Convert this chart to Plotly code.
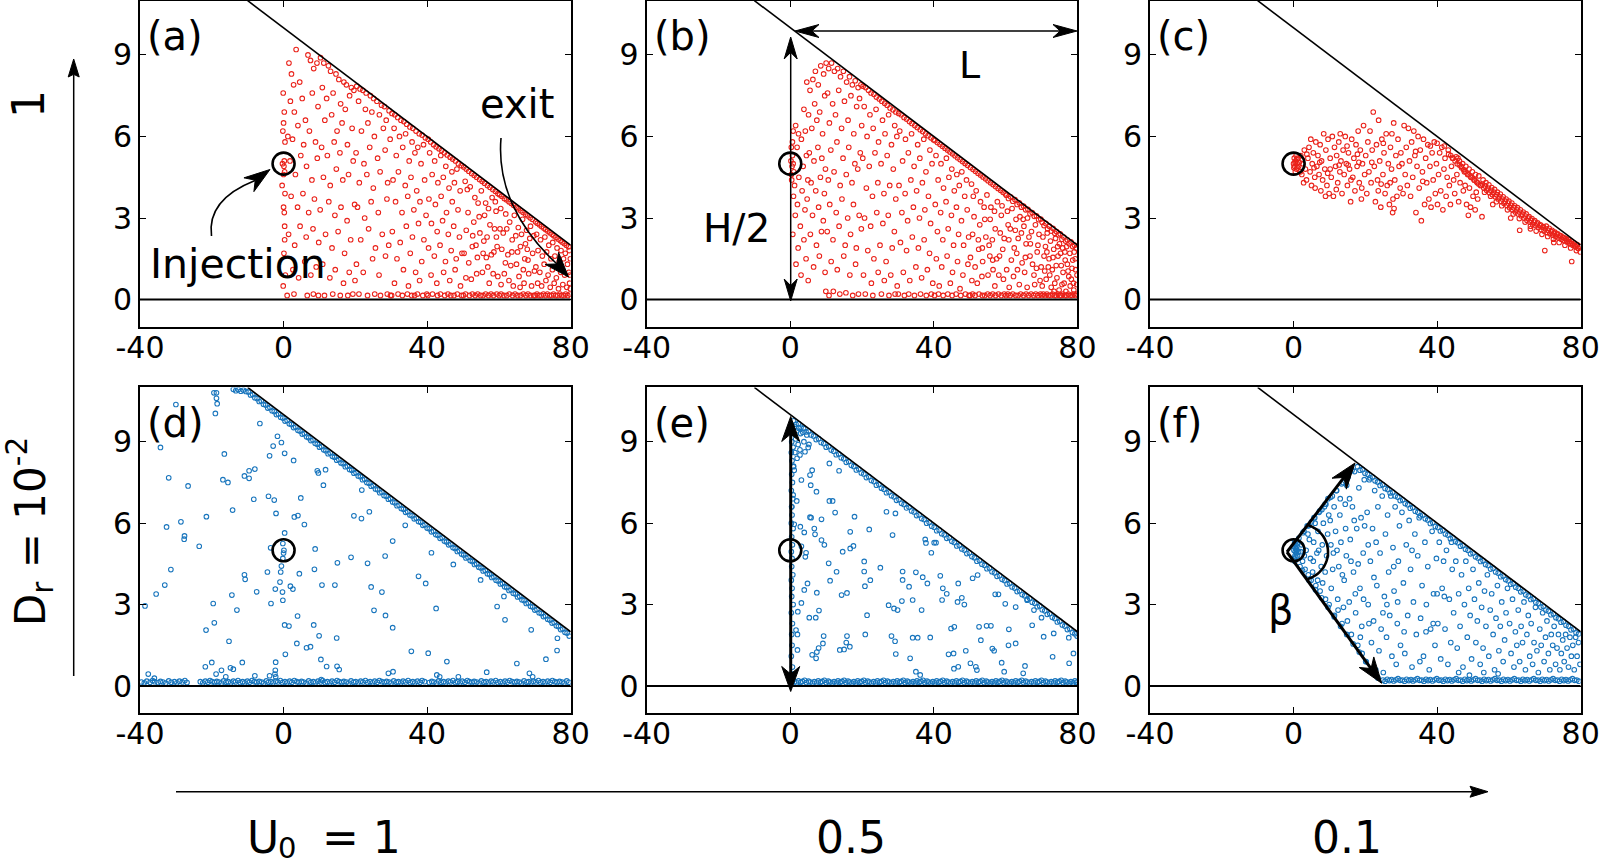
import math
import plotly.graph_objects as go

W, H = 1606, 867
FONT = "DejaVu Sans"
RED = "rgb(234,34,26)"
BLUE = "rgb(24,117,189)"

PANEL_LABELS = ["(a)", "(b)", "(c)", "(d)", "(e)", "(f)"]
X_TICKS = [-40, 0, 40, 80]
X_TICK_TEXT = ["-40", "0", "40", "80"]
Y_TICKS = [0, 3, 6, 9]
Y_TICK_TEXT = ["0", "3", "6", "9"]
X_RANGE = [-40, 80]
Y_RANGE = [-1, 11]
WALL_X = [-10, 80]
WALL_Y = [11, 2]
FLOOR_X = [-40, 80]
FLOOR_Y = [0, 0]
INJECTION_X = [0]
INJECTION_Y = [5]
COLUMN_VALUES = ["1", "0.5", "0.1"]   # U0 of each column
ROW_LABELS = ["1", "D<sub>r</sub> = 10<sup>-2</sup>"]

# ---------------- panel (a): U0 = 1, Dr = 1 ----------------
A_POINTS = [
    (-0.1,7.6),(0.2,6.9),(-0.2,6.2),(0.4,5.8),(-0.3,5.0),(0.1,4.9),(0.3,4.7),(-0.4,4.2),(0.0,3.4),(0.2,3.2),
    (0.3,2.7),(0.1,1.7),(0.5,0.9),(-0.1,0.5),(0.0,6.5),(0.4,3.9),(0.3,2.2),(0.2,5.1),(0.0,4.6),
    (1.5,8.7),(2.2,8.3),(3.5,9.2),(2.8,7.9),(4.5,8.0),(1.9,7.3),(3.0,6.9),(5.2,7.4),(6.8,9.0),(7.5,8.8),
    (8.4,8.5),(9.3,8.7),(6.1,6.6),(8.0,7.6),(9.6,7.1),(1.2,6.0),(2.5,5.9),(4.0,6.4),(5.6,5.7),(7.2,6.2),
    (8.9,5.8),(1.8,5.1),(3.3,4.6),(4.8,5.3),(6.4,4.9),(7.9,4.4),(9.4,5.2),(2.1,3.8),(3.9,3.4),(5.4,3.9),
    (7.0,3.2),(8.6,3.7),(1.4,2.4),(3.1,2.0),(4.6,2.7),(6.3,2.3),(8.2,2.6),(9.8,2.1),(2.6,1.1),(4.2,0.8),
    (5.9,1.4),(7.6,0.9),(9.1,1.2),(1.0,0.15),(2.9,0.2),(6.6,0.15),(8.3,0.2),(9.7,0.15),
    (10.3,8.9),(11.2,8.7),(12.5,8.6),(13.1,8.4),(14.6,8.3),(15.4,8.1),(16.8,8.0),(17.5,7.9),(18.9,7.8),(19.6,7.7),
    (10.8,7.8),(12.0,7.4),(13.8,7.6),(15.9,7.2),(17.2,7.0),(18.4,7.5),(11.5,6.6),(13.4,6.8),(14.9,6.2),(16.3,6.5),
    (19.1,6.3),(10.6,5.6),(12.2,5.3),(14.1,5.8),(15.7,5.4),(17.8,5.7),(19.4,5.1),(11.1,4.5),(13.0,4.2),(14.7,4.8),
    (16.5,4.4),(18.1,4.6),(10.2,3.3),(12.6,3.6),(14.3,3.1),(16.0,3.4),(17.7,2.9),(19.8,3.5),(11.7,2.4),(13.5,1.9),
    (15.2,2.5),(17.0,1.7),(18.7,2.2),(10.9,1.3),(12.9,0.8),(14.4,1.1),(16.7,0.6),(18.3,1.0),(19.9,0.7),(11.4,0.15),
    (13.7,0.2),(15.8,0.15),(17.9,0.15),(19.3,0.2),
    (20.4,7.85),(21.3,7.75),(22.1,7.7),(23.0,7.6),(24.2,7.5),(25.1,7.4),(26.0,7.3),(27.3,7.15),(28.1,7.1),(29.4,6.95),
    (20.9,7.3),(22.8,7.0),(24.6,6.9),(26.7,6.8),(28.6,6.6),(21.7,6.2),(23.5,6.5),(25.3,6.0),(27.8,6.3),(29.7,5.9),
    (20.2,5.4),(22.4,5.0),(24.0,5.6),(26.2,5.2),(28.3,5.5),(21.1,4.3),(23.2,4.6),(25.0,4.1),(26.9,4.7),(29.0,4.3),
    (20.6,3.4),(22.6,3.0),(24.4,3.6),(26.4,3.2),(28.8,3.7),(21.5,2.2),(23.7,2.6),(25.6,1.9),(27.5,2.4),(29.3,2.0),
    (20.3,1.3),(22.2,1.0),(24.8,1.5),(26.6,0.9),(28.4,1.6),(21.0,0.2),(23.4,0.15),(25.4,0.2),(27.0,0.15),(28.9,0.2),(29.8,0.15),
    (30.2,6.85),(31.0,6.8),(31.8,6.7),(32.7,6.6),(33.5,6.55),(34.3,6.45),(35.2,6.35),(36.0,6.3),(36.9,6.2),(37.8,6.1),
    (38.6,6.05),(39.5,5.95),(30.8,6.3),(32.3,6.0),(34.0,6.1),(35.8,5.8),(37.4,5.6),(39.0,5.7),(31.4,5.3),(33.2,5.6),
    (35.0,5.1),(36.6,5.4),(38.3,5.0),(30.5,4.4),(32.0,4.7),(33.9,4.2),(35.5,4.5),(37.1,4.0),(39.3,4.4),(31.2,3.6),
    (33.0,3.2),(34.6,3.8),(36.3,3.3),(38.0,3.6),(39.7,3.1),(30.3,2.5),(32.5,2.1),(34.2,2.7),(35.9,2.3),(37.6,2.8),
    (39.1,2.2),(31.6,1.5),(33.4,1.1),(35.3,1.7),(36.8,1.0),(38.5,1.4),(30.9,0.6),(34.8,0.5),(37.9,0.7),(30.1,0.15),
    (31.9,0.2),(33.1,0.15),(34.5,0.2),(35.7,0.15),(36.5,0.15),(37.3,0.2),(38.8,0.15),(39.9,0.2),
    (40.3,5.9),(41.0,5.8),(41.8,5.7),(42.5,5.62),(43.3,5.55),(44.0,5.48),(44.8,5.4),(45.6,5.32),(46.4,5.24),(47.1,5.17),
    (47.9,5.1),(48.7,5.0),(49.5,4.93),(40.7,5.4),(42.1,5.1),(43.8,5.3),(45.2,4.9),(46.9,4.7),(48.3,4.8),(41.4,4.6),
    (43.0,4.3),(44.5,4.5),(46.1,4.1),(47.6,4.3),(49.2,4.0),(40.5,3.7),(42.3,3.5),(43.9,3.8),(45.4,3.2),(47.0,3.6),
    (48.6,3.3),(41.2,2.8),(42.8,2.5),(44.3,2.9),(45.9,2.4),(47.4,2.7),(49.0,2.3),(40.4,1.9),(42.0,1.6),(43.6,2.0),
    (45.1,1.4),(46.7,1.8),(48.1,1.5),(49.7,1.7),(41.1,0.9),(42.7,0.6),(44.6,1.0),(46.3,0.7),(47.8,1.1),(49.3,0.5),
    (40.2,0.15),(41.5,0.2),(42.9,0.15),(43.7,0.2),(44.9,0.15),(45.8,0.2),(46.6,0.15),(47.5,0.15),(48.4,0.2),(49.6,0.15),
    (50.2,4.88),(50.9,4.8),(51.6,4.72),(52.4,4.64),(53.1,4.57),(53.8,4.5),(54.6,4.42),(55.3,4.35),(56.0,4.28),(56.8,4.2),
    (57.5,4.13),(58.3,4.05),(59.0,3.98),(59.7,3.9),
    (50.6,4.35),(51.4,3.2),(52.0,4.15),(52.7,2.35),(53.3,3.75),(54.0,1.55),(54.5,3.05),(55.1,4.0),(55.8,2.15),(56.3,3.55),
    (56.9,1.2),(57.5,2.75),(58.1,3.75),(58.6,1.75),(59.2,3.25),(59.7,0.85),(50.9,2.55),(51.6,1.35),(52.3,0.75),(53.0,2.85),
    (53.8,0.95),(54.7,2.45),(55.4,1.0),(56.0,3.1),(56.7,2.3),(57.3,0.6),(57.9,1.65),(58.8,2.6),(59.5,1.95),(50.3,1.7),
    (51.2,4.05),(52.6,1.95),(54.2,3.55),(55.6,1.7),(57.1,3.35),(58.4,0.95),(59.0,3.6),(50.8,0.8),(53.6,2.0),(56.5,1.55),(59.3,2.3),
    (50.1,0.15),(50.7,0.2),(51.8,0.15),(52.6,0.2),(53.4,0.15),(54.1,0.2),(54.9,0.15),(55.6,0.15),(56.3,0.2),(57.1,0.15),
    (57.8,0.2),(58.5,0.15),(59.4,0.2),
    (60.2,3.86),(60.8,3.8),(61.5,3.72),(62.1,3.67),(62.8,3.6),(63.4,3.54),(64.1,3.47),(64.8,3.4),(65.4,3.34),(66.1,3.27),
    (66.7,3.21),(67.4,3.14),(68.0,3.08),(68.7,3.01),(69.3,2.95),
    (60.5,3.35),(61.2,2.45),(61.9,3.15),(62.5,1.65),(63.0,2.85),(63.7,2.2),(64.3,3.1),(64.9,1.3),(65.4,2.65),(66.0,1.95),
    (66.6,2.95),(67.2,1.5),(67.7,2.55),(68.3,0.95),(68.8,2.7),(69.4,1.7),(60.8,1.85),(61.5,0.95),(62.2,2.6),(63.3,1.25),
    (64.0,0.5),(64.7,2.35),(65.6,0.85),(66.3,2.4),(67.0,0.6),(67.9,1.85),(68.6,2.25),(69.1,0.5),(69.7,2.35),(60.3,2.6),
    (61.8,1.35),(63.6,1.75),(65.2,1.75),(66.8,1.1),(68.1,1.45),(69.9,1.05),(60.6,0.55),(62.8,0.7),(65.9,0.45),(67.4,2.05),
    (60.1,0.15),(60.6,0.2),(61.4,0.15),(62.2,0.15),(62.9,0.2),(63.8,0.15),(64.5,0.2),(65.2,0.15),
    (66.0,0.15),(66.8,0.2),(67.5,0.15),(68.1,0.2),(68.8,0.15),(69.7,0.15),
    (70.2,2.86),(70.7,2.81),(71.3,2.75),(71.9,2.69),(72.5,2.63),(73.0,2.58),(73.6,2.52),(74.2,2.46),(74.8,2.4),(75.3,2.35),
    (75.9,2.29),(76.5,2.23),(77.1,2.17),(77.6,2.12),(78.2,2.06),(78.8,2.0),(79.4,1.94),(70.5,2.4),(71.6,2.2),(72.8,2.3),
    (73.9,2.0),(75.0,2.1),(76.2,1.9),(77.3,1.8),(78.5,1.7),(79.6,1.8),(70.9,1.8),(72.1,1.6),(73.3,1.75),(74.5,1.5),
    (75.6,1.6),(76.8,1.4),(78.0,1.5),(79.1,1.3),(70.3,1.2),(71.4,1.0),(72.6,1.3),(73.7,0.9),(74.9,1.1),(76.0,0.8),
    (77.2,1.0),(78.3,0.9),(79.5,1.0),(70.8,0.6),(71.9,0.5),(73.1,0.7),(74.3,0.45),(75.4,0.6),(76.6,0.4),(77.8,0.55),
    (78.9,0.45),(79.7,0.6),(70.1,0.15),(70.6,0.2),(71.2,0.15),(71.8,0.15),(72.4,0.2),(73.0,0.15),(73.5,0.2),(74.1,0.15),
    (74.7,0.15),(75.2,0.2),(75.8,0.15),(76.4,0.15),(77.0,0.2),(77.5,0.15),(78.1,0.15),(78.6,0.2),(79.2,0.15),(79.8,0.2),
    (79.9,0.4),(79.8,0.9),(79.9,1.5),
]

# ---------------- panel (b): U0 = 0.5, Dr = 1 ----------------
B_POINTS = [
    (0.3,4.6),(0.5,4.9),(0.2,5.1),(0.6,5.3),(0.4,4.4),(0.8,5.0),(0.3,5.6),(1.0,4.7),
    (0.8,6.2),(1.5,6.4),(2.3,6.1),(0.6,5.8),(1.9,5.6),(3.1,5.9),(4.2,6.2),(1.2,4.2),(2.4,4.5),(3.6,4.9),
    (4.5,5.3),(0.9,3.8),(2.0,3.5),(3.3,4.0),(4.7,3.7),(1.4,3.1),(2.8,2.7),(4.1,3.3),(0.7,2.4),(2.2,1.9),
    (3.8,2.2),(1.6,1.3),(3.0,0.9),(4.4,1.5),(4.9,4.4),
    (3.8,7.0),(4.6,8.0),(5.5,7.7),(6.3,8.1),(7.0,8.4),(7.8,7.9),(8.5,8.6),(9.3,8.3),(10.0,8.7),(5.1,6.8),
    (6.8,7.2),(8.2,6.9),(9.6,7.5),(6.0,6.3),(7.4,6.6),(9.0,6.1),
    (5.3,5.4),(6.6,5.1),(7.7,5.6),(8.8,5.2),(9.8,4.8),(5.8,4.3),(7.1,4.0),(8.4,4.5),(9.5,3.9),(6.2,3.1),
    (7.9,3.4),(9.2,2.9),(5.6,2.4),(7.3,2.0),(8.7,2.5),(6.5,1.2),(8.1,1.6),(9.7,1.0),(5.0,0.7),(9.9,0.3),
    (10.7,8.5),(11.5,8.7),(12.3,8.4),(13.2,8.5),(14.0,8.2),(14.8,8.4),(15.7,8.0),(16.5,8.2),(17.3,7.9),(18.1,8.05),
    (18.9,7.8),(19.7,7.9),(10.4,7.6),(11.8,7.2),(13.5,7.7),(15.1,7.3),(16.9,7.5),(18.5,7.1),(19.3,7.4),(10.9,6.5),
    (12.6,6.8),(14.3,6.3),(16.1,6.6),(17.7,6.1),(19.9,6.4),(11.3,5.5),(13.0,5.8),(14.7,5.2),(16.3,5.6),(18.0,5.0),
    (19.5,5.4),(10.6,4.4),(12.2,4.7),(13.9,4.2),(15.6,4.6),(17.2,4.3),(18.8,4.8),(11.0,3.5),(12.8,3.2),(14.4,3.7),
    (16.0,3.0),(17.6,3.5),(19.2,3.1),(10.3,2.5),(11.9,2.2),(13.6,2.7),(15.3,2.0),(16.8,2.4),(18.4,1.9),(19.8,2.6),
    (11.4,1.4),(13.1,1.1),(14.9,1.6),(16.6,0.9),(18.2,1.3),(12.0,0.3),(13.8,0.2),(15.5,0.25),(17.4,0.15),(19.0,0.2),(10.8,0.15),
    (20.3,7.85),(21.0,7.8),(21.8,7.7),(22.5,7.6),(23.3,7.55),(24.0,7.45),(24.8,7.38),(25.5,7.3),(26.3,7.22),(27.0,7.15),
    (27.8,7.05),(28.6,6.98),(29.4,6.9),(20.6,7.1),(22.2,6.8),(23.9,7.0),(25.7,6.6),(27.4,6.8),(29.1,6.4),(21.4,6.0),
    (23.1,6.3),(24.6,5.8),(26.4,6.1),(28.2,5.7),(29.7,6.0),(20.2,5.2),(22.0,4.9),(23.6,5.4),(25.3,5.0),(27.0,5.3),
    (28.7,4.8),(21.2,4.1),(22.9,3.8),(24.4,4.3),(26.1,3.9),(27.7,4.2),(29.4,3.7),(20.7,3.0),(22.4,2.7),(24.1,3.2),
    (25.8,2.8),(27.3,3.1),(29.0,2.5),(21.6,1.8),(23.3,1.5),(25.0,2.0),(26.7,1.4),(28.4,1.9),(20.4,0.9),(22.6,0.6),
    (24.5,1.0),(26.2,0.7),(28.0,0.9),(29.8,0.5),(20.9,0.2),(23.0,0.15),(25.4,0.2),(27.5,0.15),(29.2,0.2),
    (30.2,6.85),(30.9,6.8),(31.7,6.7),(32.4,6.64),(33.2,6.55),(33.9,6.48),(34.7,6.4),(35.4,6.33),(36.2,6.25),(36.9,6.18),
    (37.7,6.1),(38.4,6.03),(39.2,5.95),(39.9,5.88),(30.5,6.2),(32.1,5.9),(33.8,6.1),(35.5,5.7),(37.2,5.9),(38.9,5.5),
    (31.3,5.1),(32.9,5.4),(34.5,4.9),(36.1,5.2),(37.8,4.7),(39.5,5.0),(30.3,4.2),(32.0,3.9),(33.6,4.4),(35.2,4.0),
    (36.8,4.3),(38.5,3.8),(31.1,3.2),(32.7,2.9),(34.3,3.4),(36.0,3.0),(37.5,3.3),(39.1,2.8),(30.7,2.1),(32.4,1.8),
    (34.0,2.3),(35.7,1.9),(37.3,2.2),(38.8,1.7),(31.5,1.0),(33.3,0.7),(35.0,1.2),(36.6,0.8),(38.2,1.1),(39.7,0.6),
    (30.1,0.2),(31.8,0.15),(33.0,0.2),(34.6,0.15),(36.3,0.2),(37.9,0.15),(39.3,0.2),
    (40.3,5.85),(41.0,5.78),(41.7,5.71),(42.4,5.64),(43.1,5.57),(43.8,5.5),(44.5,5.43),(45.2,5.36),(45.9,5.29),(46.6,5.22),
    (47.3,5.15),(48.0,5.08),(48.7,5.01),(49.4,4.94),(40.6,5.3),(42.0,5.0),(43.5,5.2),(45.0,4.8),(46.4,4.6),(47.8,4.7),
    (49.1,4.4),(41.2,4.4),(42.7,4.1),(44.2,4.5),(45.7,4.0),(47.1,4.2),(48.6,3.8),(40.4,3.5),(41.9,3.2),(43.4,3.6),
    (44.9,3.1),(46.3,3.4),(47.7,2.9),(49.3,3.3),(41.0,2.5),(42.5,2.2),(44.0,2.6),(45.5,2.0),(46.9,2.4),(48.3,2.0),
    (49.7,2.3),(40.7,1.5),(42.2,1.2),(43.7,1.6),(45.2,1.0),(46.6,1.4),(48.1,0.9),(49.5,1.3),(41.5,0.5),(44.6,0.6),
    (47.3,0.4),(40.2,0.15),(41.3,0.2),(42.6,0.15),(43.9,0.2),(45.1,0.15),(46.2,0.2),(47.5,0.15),(48.8,0.2),(49.8,0.15),
    (50.2,4.86),(50.9,4.79),(51.6,4.72),(52.3,4.65),(53.0,4.58),(53.7,4.51),(54.4,4.44),(55.1,4.37),(55.8,4.3),(56.5,4.23),
    (57.2,4.16),(57.9,4.09),(58.6,4.02),(59.3,3.95),(59.9,3.89),
    (50.5,4.25),(51.2,3.05),(51.8,4.0),(52.4,2.2),(53.0,3.6),(53.6,1.4),(54.2,2.95),(54.8,3.85),(55.4,2.0),(55.9,3.4),
    (56.5,1.1),(57.1,2.6),(57.7,3.6),(58.3,1.6),(58.8,3.1),(59.4,0.75),(50.8,2.4),(51.5,1.2),(52.1,0.6),(52.8,2.75),
    (53.4,0.85),(54.5,2.3),(55.1,0.9),(55.7,2.95),(56.3,2.2),(57.0,0.5),(57.5,1.5),(58.5,2.45),(59.2,1.85),(50.2,1.55),
    (51.0,3.8),(52.5,1.85),(54.0,3.4),(55.6,1.6),(56.9,3.25),(58.1,0.9),(59.0,3.45),(50.6,0.7),(53.5,1.9),(56.4,1.45),(59.6,2.25),
    (50.1,0.15),(50.8,0.2),(51.5,0.15),(52.6,0.2),(53.5,0.15),(54.2,0.15),(55.0,0.2),(55.7,0.15),(56.4,0.2),(57.2,0.15),
    (58.0,0.2),(58.8,0.15),(59.6,0.2),
    (60.2,3.84),(60.8,3.72),(61.4,3.78),(62.0,3.62),(62.6,3.68),(63.2,3.5),(63.8,3.56),(64.4,3.4),(65.0,3.44),(65.6,3.3),
    (66.2,3.32),(66.8,3.16),(67.4,3.2),(68.0,3.06),(68.6,3.08),(69.2,2.94),(69.8,2.96),
    (60.5,3.25),(61.3,2.6),(61.8,3.35),(62.4,1.9),(62.9,2.95),(63.5,2.25),(64.0,3.05),(64.6,1.35),(65.1,2.7),(65.7,2.05),
    (66.1,3.0),(66.8,1.6),(67.2,2.5),(67.9,0.9),(68.3,2.75),(68.8,1.75),(69.3,2.4),(69.9,1.2),(60.9,2.2),(61.6,1.45),
    (62.2,0.85),(63.1,1.7),(63.8,0.55),(64.4,2.45),(65.3,1.0),(66.0,0.45),(66.5,2.3),(67.5,1.3),(68.1,0.55),(69.0,2.0),
    (69.6,0.7),(60.3,1.1),(61.0,0.45),(62.7,2.55),(64.9,2.95),(66.9,2.05),(68.6,1.15),(60.7,2.75),(63.3,1.1),(65.5,1.55),
    (60.1,0.15),(60.6,0.2),(61.3,0.15),(62.0,0.2),(62.8,0.15),(63.5,0.15),(64.2,0.2),(65.0,0.15),(65.7,0.2),(66.4,0.15),
    (67.1,0.2),(67.8,0.15),(68.4,0.2),(69.0,0.15),(69.7,0.2),
    (70.2,2.84),(70.7,2.72),(71.2,2.8),(71.7,2.6),(72.2,2.7),(72.7,2.52),(73.2,2.62),(73.7,2.44),(74.2,2.5),(74.7,2.38),
    (75.2,2.42),(75.7,2.22),(76.2,2.3),(76.7,2.15),(77.2,2.2),(77.7,2.05),(78.2,2.12),(78.7,1.95),(79.2,2.0),(79.7,1.9),
    (70.4,2.3),(71.1,1.95),(71.6,2.45),(72.1,1.5),(72.5,2.15),(73.0,1.1),(73.4,1.85),(73.9,2.25),(74.3,0.8),(74.6,1.6),
    (75.0,2.05),(75.5,1.25),(75.9,1.9),(76.3,0.6),(76.6,1.45),(77.0,1.95),(77.4,1.05),(77.9,1.7),(78.3,0.75),(78.7,1.45),
    (79.1,1.75),(79.5,1.1),(79.8,0.55),(70.7,1.6),(71.3,0.75),(71.9,1.2),(72.7,0.45),(73.2,1.55),(73.7,0.6),(74.1,1.25),
    (74.9,0.35),(75.3,1.7),(76.0,1.0),(76.8,0.3),(77.2,1.3),(78.0,0.5),(78.5,1.15),(79.0,0.35),(79.4,1.5),(79.9,0.9),
    (70.2,0.5),(70.9,1.05),(71.5,1.75),(72.3,0.9),(73.5,0.3),(74.5,1.95),(75.7,0.55),(76.5,1.75),(77.6,0.85),(78.9,0.6),
    (70.1,0.15),(70.5,0.2),(71.0,0.15),(71.5,0.2),(72.0,0.15),(72.6,0.15),(73.1,0.2),(73.6,0.15),(74.1,0.15),(74.6,0.2),
    (75.1,0.15),(75.5,0.15),(76.0,0.2),(76.5,0.15),(77.0,0.15),(77.5,0.2),(78.0,0.15),(78.5,0.15),(79.0,0.2),(79.5,0.15),(79.9,0.2),
]

# ---------------- panel (c): U0 = 0.1, Dr = 1 ----------------
C_POINTS = [
    (0.0,5.0),(0.3,4.9),(0.6,5.1),(0.2,5.2),(0.8,4.8),(1.0,5.0),(0.5,4.7),(1.2,5.2),(0.7,5.3),(1.4,4.9),
    (0.4,5.05),(0.9,5.15),(1.1,4.85),(1.6,5.05),(0.1,4.85),
    (2.0,5.3),(2.3,4.6),(2.6,5.0),(3.0,5.5),(3.3,4.8),(3.6,4.4),(4.0,5.2),(4.3,5.6),(4.6,4.7),(5.0,4.2),
    (5.2,5.0),(5.5,5.4),(5.9,4.5),(6.2,5.8),(6.5,4.9),(6.8,5.3),(7.1,4.6),(7.4,5.7),(7.8,5.1),(8.1,4.4),
    (8.4,6.1),(8.7,4.8),(9.0,5.5),(9.3,4.2),(9.6,5.9),(9.9,3.9),(10.2,5.2),(2.8,4.3),(4.8,5.9),(6.0,4.1),
    (7.6,4.0),(8.9,3.8),(3.7,5.35),(5.7,4.85),(7.3,5.05),(9.5,4.65),(1.9,4.7),(2.4,5.15),
    (10.5,4.5),(10.8,6.0),(11.1,3.8),(11.4,5.6),(11.7,4.9),(12.0,5.3),(12.3,4.3),(12.6,5.8),(12.9,4.7),(13.2,5.1),
    (13.5,3.9),(13.8,5.5),(14.1,4.6),(14.4,6.0),(14.7,5.0),(15.0,4.2),(15.3,5.4),(15.6,4.8),(15.9,3.6),(16.2,5.9),
    (16.5,4.5),(16.8,5.2),(17.1,4.0),(17.4,5.7),(17.7,4.9),(18.0,6.2),(18.3,4.3),(18.6,5.5),(18.9,3.7),(19.2,5.0),
    (19.5,6.4),(19.8,4.6),(11.9,4.05),(13.0,6.1),(14.9,5.65),(16.0,4.4),(17.8,5.35),(19.0,4.1),(10.2,4.8),(12.7,4.95),
    (15.2,4.95),(18.2,5.05),
    (20.1,5.3),(20.4,3.9),(20.7,5.8),(21.0,4.7),(21.3,6.2),(21.6,4.3),(21.9,5.5),(22.2,6.9),(22.5,4.9),(22.8,3.6),
    (23.1,5.7),(23.4,4.4),(23.7,6.6),(24.0,5.1),(24.3,3.4),(24.6,5.9),(24.9,4.6),(25.2,5.4),(25.5,3.9),(25.8,6.1),
    (26.1,4.2),(26.4,5.0),(26.7,3.5),(27.0,5.6),(27.3,4.8),(27.6,3.2),(27.9,6.5),(28.2,4.4),(28.5,5.3),(28.8,3.8),
    (29.1,5.9),(29.4,4.9),(29.7,4.1),(27.7,3.7),(28.0,3.35),(26.9,4.3),(25.0,5.75),(23.6,4.0),(21.8,5.05),(29.9,5.4),
    (27.4,6.1),(24.4,4.25),
    (30.2,5.0),(30.5,3.9),(30.8,6.4),(31.1,4.6),(31.4,5.6),(31.7,4.2),(32.0,6.3),(32.3,5.1),(32.6,3.8),(32.9,5.8),
    (33.2,4.5),(33.5,6.2),(33.8,5.3),(34.1,3.2),(34.4,4.9),(34.7,6.0),(35.0,4.1),(35.3,5.5),(35.6,2.9),(35.9,4.7),
    (36.2,5.9),(36.5,3.5),(36.8,5.2),(37.1,4.3),(37.4,5.7),(37.7,3.7),(38.0,4.9),(38.3,3.4),(38.6,5.4),(38.9,4.4),
    (39.2,5.8),(39.5,3.9),(39.8,5.0),(40.1,3.5),(40.4,4.6),(40.7,5.4),(41.0,4.0),(41.3,5.6),(41.6,3.3),(41.9,4.8),
    (42.2,5.2),(42.5,3.8),(42.8,4.5),(43.1,5.5),(43.4,4.2),(43.7,3.5),(44.0,4.9),(44.3,5.2),(44.6,4.4),(44.9,3.9),
    (34.0,5.45),(36.0,4.35),(38.1,5.65),(40.0,5.75),(42.0,5.65),
    (45.3,5.25),(45.8,5.2),(46.2,5.1),(46.7,4.9),(47.1,5.0),(47.6,4.7),(48.0,4.9),(48.5,4.6),(48.9,4.8),(49.4,4.5),
    (49.8,4.7),(50.3,4.4),(50.7,4.6),(51.2,4.3),(51.6,4.55),(52.1,4.2),(45.5,4.6),(46.4,4.3),(47.3,4.0),(48.2,3.5),
    (48.7,3.1),(49.3,3.4),(50.0,3.8),(50.6,3.3),(51.3,3.7),(46.0,3.6),(47.8,4.2),(49.0,4.1),(52.5,3.05),(50.9,3.95),
    (43.2,5.35),(43.8,5.3),(44.4,5.2),(45.0,5.1),(45.6,5.0),(46.2,4.95),(46.8,4.85),(47.4,4.78),(48.0,4.7),(48.6,4.62),
    (49.2,4.55),(49.8,4.48),(50.4,4.4),(51.0,4.33),(51.6,4.25),(52.2,4.2),
    (52.6,4.25),(53.0,4.1),(53.4,4.18),(53.8,4.02),(54.2,4.1),(54.6,3.93),(55.0,4.02),(55.4,3.86),(55.8,3.95),(56.2,3.78),
    (56.6,3.86),(57.0,3.7),(57.4,3.78),(57.8,3.62),(58.2,3.7),(58.6,3.54),(59.0,3.62),(59.4,3.47),(59.8,3.55),(60.2,3.38),
    (60.6,3.47),(61.0,3.3),(61.4,3.38),(61.8,3.22),(62.2,3.3),(62.6,3.15),(63.0,3.22),(63.4,3.08),(63.8,3.14),(64.2,3.0),
    (64.6,3.07),(65.0,2.92),(65.4,3.0),(65.8,2.85),(66.2,2.92),(66.6,2.78),(67.0,2.85),(67.4,2.72),(67.8,2.78),(68.2,2.65),
    (68.6,2.72),(69.0,2.58),(69.4,2.66),(69.8,2.52),(70.2,2.6),(70.6,2.47),(71.0,2.55),(71.4,2.42),(71.8,2.5),(72.2,2.37),
    (72.6,2.44),(73.0,2.32),(73.4,2.4),(73.8,2.27),(74.2,2.34),(74.6,2.22),(75.0,2.3),(75.4,2.17),(75.8,2.25),(76.2,2.12),
    (76.6,2.2),(77.0,2.06),(77.4,2.14),(77.8,2.0),(78.2,2.08),(78.6,1.94),(79.0,2.02),(79.4,1.88),(79.8,1.96),
    (52.8,4.4),(53.6,4.3),(54.4,4.22),(55.2,4.12),(56.0,4.05),(56.8,3.95),(57.6,3.88),(58.4,3.78),(59.2,3.7),(60.0,3.62),
    (60.8,3.55),(61.6,3.45),(62.4,3.38),(63.2,3.3),(64.0,3.22),(64.8,3.15),(65.6,3.05),(66.4,2.98),(67.2,2.9),(68.0,2.82),
    (68.8,2.75),(69.6,2.68),(70.4,2.7),(71.2,2.62),(72.0,2.55),(72.8,2.48),(73.6,2.42),(74.4,2.35),(75.2,2.28),(76.0,2.2),
    (76.8,2.13),(77.6,2.06),(78.4,1.98),(79.2,1.9),(79.9,1.75),
    (53.2,3.95),(54.9,3.8),(56.5,3.6),(58.0,3.45),(59.6,3.3),(61.2,3.15),(62.9,2.98),(64.5,2.85),(66.0,2.7),(67.6,2.52),
    (69.2,2.4),(70.8,2.32),(72.4,2.22),(74.0,2.1),(75.6,2.0),(77.2,1.9),(78.8,1.8),
    (55.5,3.5),(63.0,2.55),(70.0,1.8),(77.5,1.4),(60.5,3.0),(66.0,2.6),(72.5,2.1),
]

# ---------------- panel (d): U0 = 1, Dr = 1e-2 ----------------
D_SCATTER = [
    (-19.4,10.8),(-18.7,10.8),(-18.7,10.6),(-18.5,10.4),(-19.0,10.04),(-30.0,10.37),(-34.3,8.79),(-16.5,8.55),(-32.0,7.67),(-26.6,7.37),
    (-16.9,7.6),(-15.5,7.5),(-14.2,6.48),(-21.5,6.24),(-32.6,5.86),(-28.6,6.05),(-27.6,5.53),(-27.7,5.41),(-23.5,5.15),(-31.4,4.29),
    (-33.1,3.72),(-35.5,3.39),(-38.6,2.95),(-19.6,3.04),(-19.3,2.33),(-21.6,2.06),(-15.2,1.65),(-13.0,2.8),(-14.4,3.35),(-10.9,4.1),
    (-10.7,3.93),(-7.5,3.47),(-8.0,7.99),(-9.6,7.93),(-9.6,7.65),(-10.9,7.74),(-8.3,6.88),(-6.6,9.67),(-4.2,6.99),(-2.6,6.85),
    (-2.1,6.36),(-3.9,8.48),(-2.9,8.84),(-1.7,9.2),(-0.6,8.97),(0.3,8.57),(2.8,8.31),(4.8,6.93),(3.0,6.23),(4.0,6.28),
    (5.8,5.95),(0.3,5.64),(-3.6,5.09),(-0.2,5.25),(0.1,5.0),(0.0,4.9),(-0.2,4.7),(-0.6,4.42),(-0.8,4.2),(-1.0,3.83),
    (-4.5,4.2),(-2.3,3.57),(-0.3,3.46),(2.6,3.57),(1.9,3.68),(-0.2,3.16),(-3.5,3.04),(0.3,2.25),(1.5,2.21),(3.9,2.58),
    (4.4,4.14),(8.6,4.3),(8.8,5.05),(10.7,3.72),(14.3,3.72),(15.0,4.54),(18.8,4.74),(8.4,2.25),(9.9,1.85),(14.8,1.77),
    (3.7,1.57),(6.4,1.41),(7.5,1.45),(0.5,1.17),(-2.2,0.88),(-2.3,0.58),(-2.4,0.44),(-2.2,0.34),(-3.9,0.38),(-8.0,0.38),
    (-11.5,0.87),(-14.0,0.62),(-14.8,0.67),(-16.1,0.34),(-17.3,0.58),(-18.8,0.44),(-20.0,0.87),(-21.8,0.71),(-37.7,0.44),(-36.0,0.29),
    (10.4,0.98),(12.0,0.72),(14.9,0.73),(15.5,0.61),(10.5,0.24),(19.6,6.27),(21.7,6.17),(21.8,7.22),(23.9,6.42),(23.4,4.52),
    (24.4,3.65),(25.2,2.79),(27.4,3.46),(28.4,2.6),(28.3,4.79),(30.4,5.34),(30.4,2.15),(29.2,0.47),(30.5,0.53),(33.9,5.92),
    (35.6,1.28),(37.6,4.04),(39.6,3.78),(40.3,1.21),(41.2,4.91),(42.5,2.86),(45.5,0.9),(47.3,4.48),(42.7,0.41),(43.5,0.34),
    (48.7,0.34),(54.9,3.91),(56.6,0.51),(59.5,2.93),(61.7,2.44),(61.4,3.3),(65.0,0.83),(68.5,0.47),(69.0,2.07),(73.1,0.99),
    (76.2,1.31),(76.3,1.76),(69.4,0.34),(9.4,7.93),(9.7,7.85),(11.7,7.97),(11.1,7.4),
]
D_FLOOR = [
    (-39.6,0.15),(-38.8,0.12),(-38.1,0.18),(-37.2,0.14),(-36.5,0.2),(-35.9,0.16),(-35.0,0.13),(-34.3,0.17),(-33.6,0.15),(-32.8,0.11),
    (-32.0,0.19),(-31.3,0.14),(-30.4,0.16),(-29.7,0.12),(-29.0,0.18),(-28.2,0.15),(-27.5,0.2),(-26.9,0.13),(-23.2,0.16),(-22.5,0.12),
    (-21.8,0.18),(-21.1,0.14),(-20.5,0.2),(-19.9,0.16),(-19.2,0.13),(-18.6,0.17),(-18.0,0.15),(-17.3,0.11),(-16.7,0.19),(-16.0,0.14),
    (-15.4,0.16),(-14.7,0.12),(-14.0,0.18),(-13.4,0.15),(-12.7,0.2),(-12.1,0.13),(-11.4,0.16),(-10.8,0.12),(-10.1,0.18),(-9.5,0.14),
    (-8.8,0.2),(-8.1,0.16),(-7.5,0.13),(-6.8,0.17),(-6.1,0.15),(-5.5,0.11),(-4.8,0.19),(-4.2,0.14),(-3.5,0.16),(-2.9,0.12),
    (-2.2,0.18),(-1.6,0.15),(-0.9,0.2),(-0.3,0.13),(0.4,0.16),(1.0,0.12),(1.7,0.18),(2.3,0.14),(3.0,0.2),(3.7,0.16),
    (4.3,0.13),(5.0,0.17),(5.6,0.15),(6.3,0.11),(7.0,0.19),(7.6,0.14),(8.3,0.16),(8.9,0.12),(9.6,0.18),(10.3,0.15),
    (10.9,0.2),(11.6,0.13),(12.2,0.16),(12.9,0.12),(13.5,0.18),(14.2,0.14),(14.9,0.2),(15.5,0.16),(16.2,0.13),(16.8,0.17),
    (17.5,0.15),(18.2,0.11),(18.8,0.19),(19.5,0.14),(20.1,0.16),(20.8,0.12),(21.5,0.18),(22.1,0.15),(22.8,0.2),(23.4,0.13),
    (24.1,0.16),(24.8,0.12),(25.4,0.18),(26.1,0.14),(26.7,0.2),(27.4,0.16),(28.1,0.13),(28.7,0.17),(29.4,0.15),(30.0,0.11),
    (30.7,0.19),(31.4,0.14),(32.0,0.16),(32.7,0.12),(33.3,0.18),(34.0,0.15),(34.7,0.2),(35.3,0.13),(36.0,0.16),(36.6,0.12),
    (37.3,0.18),(38.0,0.14),(38.6,0.2),(39.3,0.16),(40.6,0.13),(41.3,0.17),(41.9,0.15),(42.6,0.11),(43.2,0.19),(43.9,0.14),
    (44.6,0.16),(45.2,0.12),(45.9,0.18),(46.5,0.15),(47.2,0.2),(47.9,0.13),(48.5,0.16),(49.2,0.12),(49.8,0.18),(50.5,0.14),
    (51.2,0.2),(51.8,0.16),(52.5,0.13),(53.1,0.17),(53.8,0.15),(54.5,0.11),(55.1,0.19),(55.8,0.14),(56.4,0.16),(57.1,0.12),
    (57.8,0.18),(58.4,0.15),(59.1,0.2),(59.7,0.13),(60.4,0.16),(61.1,0.12),(61.7,0.18),(62.4,0.14),(63.0,0.2),(63.7,0.16),
    (64.4,0.13),(65.0,0.17),(65.7,0.15),(66.3,0.11),(67.0,0.19),(67.7,0.14),(68.3,0.16),(69.0,0.12),(69.6,0.18),(70.3,0.15),
    (71.0,0.2),(71.6,0.13),(72.3,0.16),(72.9,0.12),(73.6,0.18),(74.3,0.14),(74.9,0.2),(75.6,0.16),(76.2,0.13),(76.9,0.17),
    (77.6,0.15),(78.2,0.11),(78.9,0.19),(79.5,0.14),
]
D_WALL = [
    (-14.0,10.93),(-13.3,10.88),(-12.6,10.92),(-11.9,10.86),(-11.2,10.9),(-10.5,10.85),
    (-9.8,10.83),(-9.2,10.72),(-8.6,10.74),(-8.0,10.62),(-7.4,10.59),(-6.8,10.48),(-6.2,10.5),(-5.6,10.38),(-5.0,10.35),(-4.4,10.24),
    (-3.8,10.26),(-3.2,10.14),(-2.6,10.11),(-2.0,10.0),(-1.4,10.02),(-0.8,9.9),(-0.2,9.87),(0.4,9.76),(1.0,9.78),(1.6,9.66),
    (2.2,9.63),(2.8,9.52),(3.4,9.54),(4.0,9.42),(4.6,9.39),(5.2,9.28),(5.8,9.3),(6.4,9.18),(7.0,9.15),(7.6,9.04),
    (8.2,9.06),(8.8,8.94),(9.4,8.91),(10.0,8.8),(10.6,8.82),(11.2,8.7),(11.8,8.67),(12.4,8.56),(13.0,8.58),(13.6,8.46),
    (14.2,8.43),(14.8,8.32),(15.4,8.34),(16.0,8.22),(16.6,8.19),(17.2,8.08),(17.8,8.1),(18.4,7.98),(19.0,7.95),(19.6,7.84),
    (20.2,7.86),(20.8,7.74),(21.4,7.71),(22.0,7.6),(22.6,7.62),(23.2,7.5),(23.8,7.47),(24.4,7.36),(25.0,7.38),(25.6,7.26),
    (26.2,7.23),(26.8,7.12),(27.4,7.14),(28.0,7.02),(28.6,6.99),(29.2,6.88),(29.8,6.9),(30.4,6.78),(31.0,6.75),(31.6,6.64),
    (32.2,6.66),(32.8,6.54),(33.4,6.51),(34.0,6.4),(34.6,6.42),(35.2,6.3),(35.8,6.27),(36.4,6.16),(37.0,6.18),(37.6,6.06),
    (38.2,6.03),(38.8,5.92),(39.4,5.94),(40.0,5.82),(40.6,5.79),(41.2,5.68),(41.8,5.7),(42.4,5.58),(43.0,5.55),(43.6,5.44),
    (44.2,5.46),(44.8,5.34),(45.4,5.31),(46.0,5.2),(46.6,5.22),(47.2,5.1),(47.8,5.07),(48.4,4.96),(49.0,4.98),(49.6,4.86),
    (50.2,4.83),(50.8,4.72),(51.4,4.74),(52.0,4.62),(52.6,4.59),(53.2,4.48),(53.8,4.5),(54.4,4.38),(55.0,4.35),(55.6,4.24),
    (56.2,4.26),(56.8,4.14),(57.4,4.11),(58.0,4.0),(58.6,4.02),(59.2,3.9),(59.8,3.87),(60.4,3.76),(61.0,3.78),(61.6,3.66),
    (62.2,3.63),(62.8,3.52),(63.4,3.54),(64.0,3.42),(64.6,3.39),(65.2,3.28),(65.8,3.3),(66.4,3.18),(67.0,3.15),(67.6,3.04),
    (68.2,3.06),(68.8,2.94),(69.4,2.91),(70.0,2.8),(70.6,2.82),(71.2,2.7),(71.8,2.67),(72.4,2.56),(73.0,2.58),(73.6,2.46),
    (74.2,2.43),(74.8,2.32),(75.4,2.34),(76.0,2.22),(76.6,2.19),(77.2,2.08),(77.8,2.1),(78.4,1.98),(79.0,1.95),(79.6,1.84),
]

# ---------------- panel (e): U0 = 0.5, Dr = 1e-2 ----------------
E_SCATTER = [
    (5.5,7.77),(6.1,7.95),(3.1,7.59),(0.9,8.08),(1.1,7.95),(1.9,8.39),(2.7,8.51),(4.1,8.63),(5.0,8.79),(5.7,7.4),
    (7.3,7.16),(0.8,7.04),(1.8,6.82),(0.4,6.6),(5.8,6.2),(5.5,6.22),(8.7,6.14),(10.9,6.82),(11.8,6.82),(12.5,6.39),
    (10.9,8.2),(13.6,7.93),(6.7,5.8),(2.8,5.87),(3.9,5.66),(1.1,5.96),(3.1,5.15),(4.4,4.91),(4.2,4.76),(6.9,5.59),
    (8.7,5.38),(9.5,5.2),(10.7,4.52),(12.9,4.21),(11.1,3.88),(7.4,3.44),(3.9,3.54),(4.8,3.78),(8.0,2.78),(7.1,2.52),
    (5.3,2.52),(3.1,3.06),(2.1,2.74),(2.0,1.9),(1.6,2.06),(2.0,1.33),(9.3,1.84),(9.1,1.57),(6.1,1.15),(7.4,1.25),
    (7.2,1.02),(7.9,1.4),(13.8,1.33),(15.0,1.35),(16.6,1.45),(15.6,1.6),(15.8,1.84),(14.3,3.35),(15.8,3.43),(14.6,4.95),
    (16.7,5.07),(17.6,5.16),(16.7,5.68),(17.9,6.24),(20.6,4.59),(20.6,4.22),(20.8,3.68),(21.4,2.61),(22.0,5.77),(25.1,4.36),
    (22.3,3.9),(20.9,1.9),(27.4,2.98),(28.2,1.84),(29.2,1.65),(29.4,1.18),(28.9,2.86),(29.9,2.8),(28.5,5.56),(26.8,6.42),
    (29.3,6.36),(31.3,4.22),(31.3,3.91),(33.1,3.66),(31.1,3.13),(34.1,3.17),(34.1,1.78),(35.5,1.78),(33.4,1.02),(35.0,0.53),
    (36.2,0.41),(36.6,2.8),(36.9,4.01),(38.2,3.78),(35.0,4.19),(37.6,5.4),(37.8,5.27),(39.3,4.91),(40.1,5.28),(40.6,5.28),
    (39.0,1.79),(41.8,4.06),(42.3,3.17),(42.5,3.6),(43.6,3.4),(44.1,1.17),(44.8,2.12),(45.7,2.18),(45.5,1.2),(46.8,3.78),
    (46.6,3.1),(47.8,3.25),(48.5,3.0),(45.6,0.64),(46.8,0.71),(48.9,1.3),(50.2,0.84),(51.7,0.71),(52.0,0.59),(50.8,3.97),
    (52.2,4.09),(52.6,2.18),(53.1,1.69),(54.7,2.22),(55.9,2.22),(56.3,1.38),(56.8,1.3),(57.1,3.38),(58.0,3.38),(59.9,3.03),
    (60.9,2.09),(60.8,1.5),(62.8,1.57),(58.9,0.86),(59.6,0.53),(62.8,2.91),(65.4,0.74),(64.9,0.47),(67.4,2.24),(70.6,1.82),
    (73.1,1.08),(73.4,1.94),(77.6,1.78),(78.9,1.2),(77.7,0.84),(66.0,3.16),(67.9,2.8),(70.0,2.52),
    (1.2,9.55),(1.8,9.4),(2.4,9.5),(1.5,9.1),(2.9,9.3),(3.5,9.35),(2.2,8.9),(3.8,9.0),(4.6,9.25),(1.3,8.6),
    (2.7,8.7),(5.2,8.9),
]
E_INLET = [
    (0.3,9.5),(0.6,9.3),(0.4,9.0),(0.8,8.8),(0.3,8.6),(0.5,8.3),(0.9,8.1),(0.4,7.8),(0.6,7.5),(0.3,7.2),
    (0.7,6.9),(0.4,6.6),(0.5,6.3),(0.3,6.0),(0.8,5.8),(0.4,5.5),(0.6,5.2),(0.3,4.95),(0.5,4.7),(0.4,4.4),
    (0.7,4.1),(0.3,3.9),(0.5,3.6),(0.4,3.3),(0.8,3.0),(0.3,2.7),(0.6,2.3),(0.4,1.9),(0.5,1.5),(0.3,1.1),
    (0.6,0.7),(0.4,0.45),
]
E_FLOOR = [
    (1.2,0.16),(1.8,0.12),(2.3,0.19),(2.9,0.14),(3.4,0.17),(4.0,0.21),(4.5,0.13),(5.1,0.18),(5.6,0.15),(6.2,0.11),
    (6.7,0.16),(7.3,0.12),(7.8,0.19),(8.4,0.14),(8.9,0.17),(9.5,0.21),(10.0,0.13),(10.6,0.18),(11.1,0.15),(11.7,0.11),
    (12.2,0.16),(12.8,0.12),(13.3,0.19),(13.9,0.14),(14.4,0.17),(15.0,0.21),(15.5,0.13),(16.1,0.18),(16.6,0.15),(17.2,0.11),
    (17.7,0.16),(18.3,0.12),(18.8,0.19),(19.4,0.14),(19.9,0.17),(20.5,0.21),(21.0,0.13),(21.6,0.18),(22.1,0.15),(22.7,0.11),
    (23.2,0.16),(23.8,0.12),(24.3,0.19),(24.9,0.14),(25.4,0.17),(26.0,0.21),(26.5,0.13),(27.1,0.18),(27.6,0.15),(28.2,0.11),
    (28.7,0.16),(29.3,0.12),(29.8,0.19),(30.4,0.14),(30.9,0.17),(31.5,0.21),(32.0,0.13),(32.6,0.18),(33.1,0.15),(33.7,0.11),
    (34.2,0.16),(34.8,0.12),(35.3,0.19),(35.9,0.14),(36.4,0.17),(37.0,0.21),(37.5,0.13),(38.1,0.18),(38.6,0.15),(39.2,0.11),
    (39.7,0.16),(40.3,0.12),(40.8,0.19),(41.4,0.14),(41.9,0.17),(42.5,0.21),(43.0,0.13),(43.6,0.18),(44.1,0.15),(44.7,0.11),
    (45.2,0.16),(45.8,0.12),(46.3,0.19),(46.9,0.14),(47.4,0.17),(48.0,0.21),(48.5,0.13),(49.1,0.18),(49.6,0.15),(50.2,0.11),
    (50.7,0.16),(51.3,0.12),(51.8,0.19),(52.4,0.14),(52.9,0.17),(53.5,0.21),(54.0,0.13),(54.6,0.18),(55.1,0.15),(55.7,0.11),
    (56.2,0.16),(56.8,0.12),(57.3,0.19),(57.9,0.14),(58.4,0.17),(59.0,0.21),(59.5,0.13),(60.1,0.18),(60.6,0.15),(61.2,0.11),
    (61.7,0.16),(62.3,0.12),(62.8,0.19),(63.4,0.14),(63.9,0.17),(64.5,0.21),(65.0,0.13),(65.6,0.18),(66.1,0.15),(66.7,0.11),
    (67.2,0.16),(67.8,0.12),(68.3,0.19),(68.9,0.14),(69.4,0.17),(70.0,0.21),(70.5,0.13),(71.1,0.18),(71.6,0.15),(72.2,0.11),
    (72.7,0.16),(73.3,0.12),(73.8,0.19),(74.4,0.14),(74.9,0.17),(75.5,0.21),(76.0,0.13),(76.6,0.18),(77.1,0.15),(77.7,0.11),
    (78.2,0.16),(78.8,0.12),(79.3,0.19),(79.8,0.14),
]
E_WALL = [
    (0.9,9.77),(1.6,9.64),(2.3,9.67),(3.0,9.53),(3.7,9.49),(4.4,9.36),(5.1,9.39),(5.8,9.25),(6.5,9.21),(7.2,9.08),
    (7.9,9.11),(8.6,8.97),(9.3,8.93),(10.0,8.8),(10.7,8.83),(11.4,8.69),(12.1,8.65),(12.8,8.52),(13.5,8.55),(14.2,8.41),
    (14.9,8.37),(15.6,8.24),(16.3,8.27),(17.0,8.13),(17.7,8.09),(18.4,7.96),(19.1,7.99),(19.8,7.85),(20.5,7.81),(21.2,7.68),
    (21.9,7.71),(22.6,7.57),(23.3,7.53),(24.0,7.4),(24.7,7.43),(25.4,7.29),(26.1,7.25),(26.8,7.12),(27.5,7.15),(28.2,7.01),
    (28.9,6.97),(29.6,6.84),(30.3,6.87),(31.0,6.73),(31.7,6.69),(32.4,6.56),(33.1,6.59),(33.8,6.45),(34.5,6.41),(35.2,6.28),
    (35.9,6.31),(36.6,6.17),(37.3,6.13),(38.0,6.0),(38.7,6.03),(39.4,5.89),(40.1,5.85),(40.8,5.72),(41.5,5.75),(42.2,5.61),
    (42.9,5.57),(43.6,5.44),(44.3,5.47),(45.0,5.33),(45.7,5.29),(46.4,5.16),(47.1,5.19),(47.8,5.05),(48.5,5.01),(49.2,4.88),
    (49.9,4.91),(50.6,4.77),(51.3,4.73),(52.0,4.6),(52.7,4.63),(53.4,4.49),(54.1,4.45),(54.8,4.32),(55.5,4.35),(56.2,4.21),
    (56.9,4.17),(57.6,4.04),(58.3,4.07),(59.0,3.93),(59.7,3.89),(60.4,3.76),(61.1,3.79),(61.8,3.65),(62.5,3.61),(63.2,3.48),
    (63.9,3.51),(64.6,3.37),(65.3,3.33),(66.0,3.2),(66.7,3.23),(67.4,3.09),(68.1,3.05),(68.8,2.92),(69.5,2.95),(70.2,2.81),
    (70.9,2.77),(71.6,2.64),(72.3,2.67),(73.0,2.53),(73.7,2.49),(74.4,2.36),(75.1,2.39),(75.8,2.25),(76.5,2.21),(77.2,2.08),
    (77.9,2.11),(78.6,1.97),(79.3,1.93),(79.9,1.84),
]

# ---------------- panel (f): U0 = 0.1, Dr = 1e-2 ----------------
F_SCATTER = [
    (0.1,5.0),(0.4,4.8),(0.6,5.2),(0.3,5.3),(0.8,4.9),(0.2,4.7),(0.7,5.05),(0.5,4.95),(0.9,5.15),(1.1,4.8),
    (1.2,5.25),(0.0,5.15),(0.45,5.1),(0.65,4.75),(1.0,5.0),(1.4,4.95),(0.35,4.6),(0.8,5.35),
    (1.5,5.45),(1.8,4.4),(2.2,5.2),(2.5,4.6),(2.9,5.7),(3.2,4.3),(3.5,5.0),(3.8,5.9),(4.1,4.1),(4.4,5.4),
    (4.7,4.7),(5.0,6.05),(2.0,4.95),(3.0,4.8),(4.0,5.6),(4.9,3.9),
    (5.3,4.2),(5.6,5.3),(5.9,6.2),(6.2,3.7),(6.5,4.9),(6.8,5.7),(7.1,6.4),(7.4,3.5),(7.7,4.4),(8.0,5.2),
    (8.3,6.0),(8.6,6.6),(8.9,3.2),(9.2,4.8),(9.5,5.6),(9.8,6.3),(6.0,6.0),(7.0,5.0),(8.1,3.8),(9.0,6.7),
    (9.9,3.0),(5.5,4.6),(6.7,3.9),(7.9,6.5),(8.8,4.2),(9.6,6.9),
    (10.2,6.1),(10.5,3.6),(10.8,7.0),(11.1,4.9),(11.4,2.6),(11.7,5.7),(12.0,7.2),(12.3,3.2),(12.6,4.4),(12.9,6.3),
    (13.2,5.3),(13.5,2.3),(13.8,7.5),(14.1,3.9),(14.4,6.7),(14.7,4.8),(10.4,5.2),(11.3,6.6),(12.4,2.8),(13.0,6.9),
    (13.9,2.9),(14.8,7.4),(10.9,4.3),(12.1,5.0),(13.6,4.1),(14.5,5.8),
    (15.2,7.7),(15.5,3.1),(15.8,5.4),(16.1,1.9),(16.4,6.6),(16.7,4.2),(17.0,7.9),(17.3,2.7),(17.6,5.8),(17.9,1.5),
    (18.2,7.3),(18.5,3.6),(18.8,6.2),(19.1,1.2),(19.4,4.9),(19.7,7.6),(15.0,2.4),(16.0,4.6),(17.2,3.4),(18.0,4.5),
    (19.0,2.2),(19.8,5.9),(15.6,6.9),(16.9,6.1),(18.6,1.8),(19.5,3.2),
    (20.2,0.9),(20.5,6.4),(20.8,3.0),(21.1,7.6),(21.4,4.6),(21.7,1.6),(22.0,5.8),(22.3,2.4),(22.6,7.2),(22.9,0.6),
    (23.2,3.7),(23.5,6.6),(23.8,1.3),(24.1,4.9),(24.4,2.1),(24.7,7.0),(25.0,0.5),(25.3,3.3),(25.6,5.6),(25.9,1.8),
    (26.2,6.3),(26.5,4.2),(26.8,2.6),(27.1,7.0),(27.4,1.1),(27.7,5.1),(28.0,3.5),(28.3,6.6),(28.6,0.8),(28.9,2.3),
    (29.2,4.6),(29.5,5.9),(29.8,1.5),(21.0,2.3),(23.0,5.3),(24.9,2.7),(26.0,3.0),(27.9,4.4),(29.0,3.1),(20.8,5.2),(22.4,4.0),
    (30.2,6.4),(30.6,3.8),(31.0,1.2),(31.4,5.2),(31.8,2.6),(32.2,6.1),(32.6,4.3),(33.0,0.7),(33.4,3.1),(33.8,5.6),
    (34.2,1.9),(34.6,4.8),(35.0,6.2),(35.4,2.5),(35.8,3.7),(36.2,1.1),(36.6,5.3),(37.0,3.0),(37.4,4.4),(37.8,0.6),
    (38.2,2.1),(38.6,5.7),(39.0,3.4),(39.4,1.5),(39.8,4.7),(40.2,2.3),(40.6,5.3),(41.0,1.0),(41.4,3.6),(41.8,4.6),
    (42.2,2.1),(42.6,5.0),(43.0,0.8),(43.4,3.2),(43.8,1.6),(44.2,4.3),(44.6,2.7),(30.8,2.0),(33.0,5.0),(35.2,0.9),
    (36.9,2.0),(38.9,2.3),(40.0,3.4),(42.0,3.3),(44.0,5.3),
    (45.2,4.6),(45.6,1.4),(46.0,3.4),(46.4,2.2),(46.8,4.1),(47.2,0.7),(47.6,3.0),(48.0,4.6),(48.4,1.8),(48.8,3.6),
    (49.2,2.6),(49.6,1.0),(50.0,4.3),(50.4,3.2),(50.8,1.6),(51.2,2.4),(51.6,3.8),(52.0,0.8),(52.4,2.9),(52.8,1.4),
    (53.2,3.5),(53.6,2.2),(54.0,4.1),(54.4,1.1),(54.8,2.8),(55.2,3.4),(55.6,1.9),(56.0,0.6),(56.4,2.5),(56.8,3.7),
    (57.2,1.3),(57.6,2.2),(58.0,3.1),(58.4,0.9),(58.8,1.7),(59.2,2.7),(59.6,3.6),(46.0,0.5),(49.0,0.4),(53.0,0.5),(57.0,0.45),
    (60.2,2.3),(60.6,1.2),(61.0,3.2),(61.4,0.7),(61.8,2.0),(62.2,1.5),(62.6,2.8),(63.0,0.9),(63.4,2.2),(63.8,1.6),
    (64.2,3.1),(64.6,0.6),(65.0,1.9),(65.4,2.6),(65.8,1.1),(66.2,2.3),(66.6,0.8),(67.0,1.6),(67.4,2.9),(67.8,1.3),
    (68.2,0.5),(68.6,2.1),(69.0,1.5),(69.4,2.7),(69.8,0.9),(70.2,1.8),(70.6,2.4),(71.0,1.2),(71.4,0.6),(71.8,1.9),
    (72.2,1.5),(72.6,2.2),(73.0,0.8),(73.4,1.4),(73.8,1.9),(74.2,0.6),(74.6,1.2),(75.0,1.7),(75.4,0.9),(75.8,1.9),
    (76.2,1.4),(76.6,0.7),(77.0,1.8),(77.4,1.1),(77.8,1.5),(78.2,0.6),(78.6,1.8),(79.0,1.1),(79.4,1.6),(79.8,0.8),
    (2.6,5.65),(4.2,5.9),(5.7,6.2),(7.3,6.45),(8.8,6.7),(10.3,6.95),(11.9,7.2),(13.4,7.45),(14.9,7.7),(16.3,7.95),
    (2.5,4.25),(4.3,3.9),(6.1,3.55),(7.8,3.25),(9.6,2.9),(11.3,2.55),(13.1,2.2),(14.8,1.9),(16.6,1.55),(18.3,1.25),
    (20.1,0.9),(21.8,0.6),(23.5,0.3),
]
F_FLOOR = [
    (24.9,0.22),(25.5,0.18),(26.1,0.25),(26.7,0.2),(27.3,0.24),(27.9,0.19),(28.5,0.23),(29.1,0.27),(29.7,0.21),(30.3,0.22),
    (30.9,0.18),(31.5,0.25),(32.1,0.2),(32.7,0.24),(33.3,0.19),(33.9,0.23),(34.5,0.27),(35.1,0.21),(35.7,0.22),(36.3,0.18),
    (36.9,0.25),(37.5,0.2),(38.1,0.24),(38.7,0.19),(39.3,0.23),(39.9,0.27),(40.5,0.21),(41.1,0.22),(41.7,0.18),(42.3,0.25),
    (42.9,0.2),(43.5,0.24),(44.1,0.19),(44.7,0.23),(45.3,0.27),(45.9,0.21),(46.5,0.22),(47.1,0.18),(47.7,0.25),(48.3,0.2),
    (48.9,0.24),(49.5,0.19),(50.1,0.23),(50.7,0.27),(51.3,0.21),(51.9,0.22),(52.5,0.18),(53.1,0.25),(53.7,0.2),(54.3,0.24),
    (54.9,0.19),(55.5,0.23),(56.1,0.27),(56.7,0.21),(57.3,0.22),(57.9,0.18),(58.5,0.25),(59.1,0.2),(59.7,0.24),(60.3,0.19),
    (60.9,0.23),(61.5,0.27),(62.1,0.21),(62.7,0.22),(63.3,0.18),(63.9,0.25),(64.5,0.2),(65.1,0.24),(65.7,0.19),(66.3,0.23),
    (66.9,0.27),(67.5,0.21),(68.1,0.22),(68.7,0.18),(69.3,0.25),(69.9,0.2),(70.5,0.24),(71.1,0.19),(71.7,0.23),(72.3,0.27),
    (72.9,0.21),(73.5,0.22),(74.1,0.18),(74.7,0.25),(75.3,0.2),(75.9,0.24),(76.5,0.19),(77.1,0.23),(77.7,0.27),(78.3,0.21),
    (78.9,0.22),(79.5,0.18),
]
F_WALL = [
    (17.8,8.08),(18.5,7.95),(19.2,7.98),(19.9,7.84),(20.6,7.8),(21.3,7.67),(22.0,7.7),(22.7,7.56),(23.4,7.52),(24.1,7.39),
    (24.8,7.42),(25.5,7.28),(26.2,7.24),(26.9,7.11),(27.6,7.14),(28.3,7.0),(29.0,6.96),(29.7,6.83),(30.4,6.86),(31.1,6.72),
    (31.8,6.68),(32.5,6.55),(33.2,6.58),(33.9,6.44),(34.6,6.4),(35.3,6.27),(36.0,6.3),(36.7,6.16),(37.4,6.12),(38.1,5.99),
    (38.8,6.02),(39.5,5.88),(40.2,5.84),(40.9,5.71),(41.6,5.74),(42.3,5.6),(43.0,5.56),(43.7,5.43),(44.4,5.46),(45.1,5.32),
    (45.8,5.28),(46.5,5.15),(47.2,5.18),(47.9,5.04),(48.6,5.0),(49.3,4.87),(50.0,4.9),(50.7,4.76),(51.4,4.72),(52.1,4.59),
    (52.8,4.62),(53.5,4.48),(54.2,4.44),(54.9,4.31),(55.6,4.34),(56.3,4.2),(57.0,4.16),(57.7,4.03),(58.4,4.06),(59.1,3.92),
    (59.8,3.88),(60.5,3.75),(61.2,3.78),(61.9,3.64),(62.6,3.6),(63.3,3.47),(64.0,3.5),(64.7,3.36),(65.4,3.32),(66.1,3.19),
    (66.8,3.22),(67.5,3.08),(68.2,3.04),(68.9,2.91),(69.6,2.94),(70.3,2.8),(71.0,2.76),(71.7,2.63),(72.4,2.66),(73.1,2.52),
    (73.8,2.48),(74.5,2.35),(75.2,2.38),(75.9,2.24),(76.6,2.2),(77.3,2.07),(78.0,2.1),(78.7,1.96),(79.4,1.92),
]

PANEL_POINTS = [
    (A_POINTS, RED),
    (B_POINTS, RED),
    (C_POINTS, RED),
    (D_SCATTER + D_FLOOR + D_WALL, BLUE),
    (E_SCATTER + E_INLET + E_FLOOR + E_WALL, BLUE),
    (F_SCATTER + F_FLOOR + F_WALL, BLUE),
]

# ---------------- layout geometry (pixels) ----------------
COL_PX = [(140.0, 570.7), (646.7, 1077.4), (1150.0, 1580.7)]
ROW_PX = [(0.6, 326.7), (387.4, 713.2)]

fig = go.Figure()
layout = dict(
    width=W, height=H, margin=dict(l=0, r=0, t=0, b=0, pad=0, autoexpand=False),
    paper_bgcolor="white", plot_bgcolor="white", showlegend=False,
    hovermode=False, font=dict(family=FONT, color="black"),
)

for i in range(6):
    r, c = divmod(i, 3)
    x0, x1 = COL_PX[c]
    y0, y1 = ROW_PX[r]
    sfx = "" if i == 0 else str(i + 1)
    common = dict(
        showline=True, linecolor="black", linewidth=2, mirror="ticks",
        ticks="inside", ticklen=6, tickwidth=1, tickcolor="black",
        showgrid=False, zeroline=False, fixedrange=True, automargin=False,
        tickfont=dict(family=FONT, size=30, color="black"),
    )
    layout["xaxis" + sfx] = dict(common, domain=[x0 / W, x1 / W], range=X_RANGE,
                                 anchor="y" + sfx, tickvals=X_TICKS, ticktext=X_TICK_TEXT,
                                 ticklabelstandoff=-7)
    layout["yaxis" + sfx] = dict(common, domain=[1 - y1 / H, 1 - y0 / H], range=Y_RANGE,
                                 anchor="x" + sfx, tickvals=Y_TICKS, ticktext=Y_TICK_TEXT)

    pts, color = PANEL_POINTS[i]
    xs = [p[0] for p in pts]
    ys = [p[1] for p in pts]
    xa, ya = "x" + sfx, "y" + sfx
    fig.add_trace(go.Scatter(x=xs, y=ys, mode="markers", xaxis=xa, yaxis=ya,
                             marker=dict(symbol="circle-open", size=4.6, color=color,
                                         line=dict(width=1.1, color=color))))
    fig.add_trace(go.Scatter(x=WALL_X, y=WALL_Y, mode="lines", xaxis=xa, yaxis=ya,
                             line=dict(color="black", width=1.6)))
    fig.add_trace(go.Scatter(x=FLOOR_X, y=FLOOR_Y, mode="lines", xaxis=xa, yaxis=ya,
                             line=dict(color="black", width=2)))
    fig.add_trace(go.Scatter(x=INJECTION_X, y=INJECTION_Y, mode="markers", xaxis=xa, yaxis=ya,
                             marker=dict(symbol="circle-open", size=22, color="black",
                                         line=dict(width=2.6, color="black"))))

fig.update_layout(template="none")
fig.update_layout(**layout)

# ---------------- decorations ----------------
def P(px, py):
    return px / W, 1 - py / H

def fmt(pt):
    x, y = P(*pt)
    return f"{x:.5f},{y:.5f}"

def poly(points, close=True):
    s = "M " + " L ".join(fmt(p) for p in points)
    return s + (" Z" if close else "")

def head(tip, back, length, width, notch=0.3):
    ux, uy = tip[0] - back[0], tip[1] - back[1]
    n = math.hypot(ux, uy)
    ux, uy = ux / n, uy / n
    vx, vy = -uy, ux
    bx, by = tip[0] - ux * length, tip[1] - uy * length
    pts = [tip,
           (bx + vx * width / 2, by + vy * width / 2),
           (tip[0] - ux * length * (1 - notch), tip[1] - uy * length * (1 - notch)),
           (bx - vx * width / 2, by - vy * width / 2)]
    return dict(type="path", xref="paper", yref="paper", path=poly(pts),
                fillcolor="black", line=dict(color="black", width=1), layer="above")

def seg(a, b, w):
    (x0, y0), (x1, y1) = P(*a), P(*b)
    return dict(type="line", xref="paper", yref="paper", x0=x0, y0=y0, x1=x1, y1=y1,
                line=dict(color="black", width=w), layer="above")

def curve(p0, c1, c2, p3, w):
    return dict(type="path", xref="paper", yref="paper",
                path=f"M {fmt(p0)} C {fmt(c1)} {fmt(c2)} {fmt(p3)}",
                line=dict(color="black", width=w), fillcolor="rgba(0,0,0,0)", layer="above")

def back_point(tip, frm, d):
    ux, uy = tip[0] - frm[0], tip[1] - frm[1]
    n = math.hypot(ux, uy)
    return (tip[0] - ux / n * d, tip[1] - uy / n * d)

def double_arrow(a, b, w, length, width):
    pa = back_point(a, b, length * 0.7)
    pb = back_point(b, a, length * 0.7)
    return [seg(pa, pb, w), head(a, b, length, width), head(b, a, length, width)]

def single_arrow(start, tip, w, length, width, notch=0.3):
    pe = back_point(tip, start, length * (1 - notch))
    return [seg(start, pe, w), head(tip, start, length, width, notch)]

shapes = []
# (a) injection and exit curved arrows
shapes.append(curve((211.5, 236), (208, 210), (226, 192), (255, 180.5), 1.6))
shapes.append(head((270, 169.5), (252, 182.5), 26, 17))
shapes.append(curve((501, 138), (497, 185), (518, 228), (557, 264), 1.6))
shapes.append(head((568.5, 277), (556, 263), 25, 18))
# (b) H/2 and L double arrows
shapes += double_arrow((790.7, 301), (790.7, 37), 1.5, 22, 13)
shapes += double_arrow((795, 31), (1077, 31), 1.5, 24, 13)
# (e) H/2 double arrow
shapes += double_arrow((790.7, 691.5), (790.7, 416.5), 3, 25, 18)
# (f) emission cone arrows and angle arc
V = (1287, 552)
shapes += single_arrow(V, (1355, 463), 3, 26, 18)
shapes += single_arrow(V, (1381.7, 683.3), 3, 26, 18)
cx, cy, rr = 1300, 552, 28
arc = [(cx + rr * math.cos(math.radians(a)), cy + rr * math.sin(math.radians(a)))
       for a in range(-74, 77, 4)]
shapes.append(dict(type="path", xref="paper", yref="paper", path=poly(arc, close=False),
                   line=dict(color="black", width=2.6), fillcolor="rgba(0,0,0,0)", layer="above"))
# big outer arrows
shapes += single_arrow((73.7, 676), (73.7, 59), 1.5, 18, 11, notch=0.15)
shapes += single_arrow((176, 791.7), (1488, 791.7), 1.5, 18, 11, notch=0.15)

fig.update_layout(shapes=shapes)

# ---------------- texts ----------------
ann = []
for i, lab in enumerate(PANEL_LABELS):
    sfx = "" if i == 0 else str(i + 1)
    ann.append(dict(text=lab, x=-38.5, y=9.7, xref="x" + sfx, yref="y" + sfx,
                    xanchor="left", yanchor="middle", showarrow=False,
                    font=dict(family=FONT, size=40, color="black")))

def ptext(text, px, py, size, angle=0, yanchor="middle"):
    x, y = P(px, py)
    return dict(text=text, x=x, y=y, xref="paper", yref="paper", xanchor="center",
                yanchor=yanchor, showarrow=False, textangle=angle,
                font=dict(family=FONT, size=size, color="black"))

ann.append(ptext("Injection", 238, 264, 41))
ann.append(ptext("exit", 517, 104, 40))
ann.append(ptext("H/2", 736.7, 229, 39))
ann.append(ptext("L", 969, 65, 38))
ann.append(ptext("β", 1281, 610, 40))
ann.append(ptext(ROW_LABELS[0], 28, 104, 44, -90))
ann.append(ptext(ROW_LABELS[1], 30, 532, 42, -90))
# column labels: "U0 = 1", "0.5", "0.1" (subscript drawn as its own small text)
ann.append(ptext("U", 263, 864.5, 44, yanchor="bottom"))
ann.append(ptext("0", 287, 867, 29, yanchor="bottom"))
ann.append(ptext("= " + COLUMN_VALUES[0], 361, 864.5, 44, yanchor="bottom"))
ann.append(ptext(COLUMN_VALUES[1], 851, 865, 44, yanchor="bottom"))
ann.append(ptext(COLUMN_VALUES[2], 1347, 865, 44, yanchor="bottom"))
fig.update_layout(annotations=ann)

fig.write_html("out.html")
